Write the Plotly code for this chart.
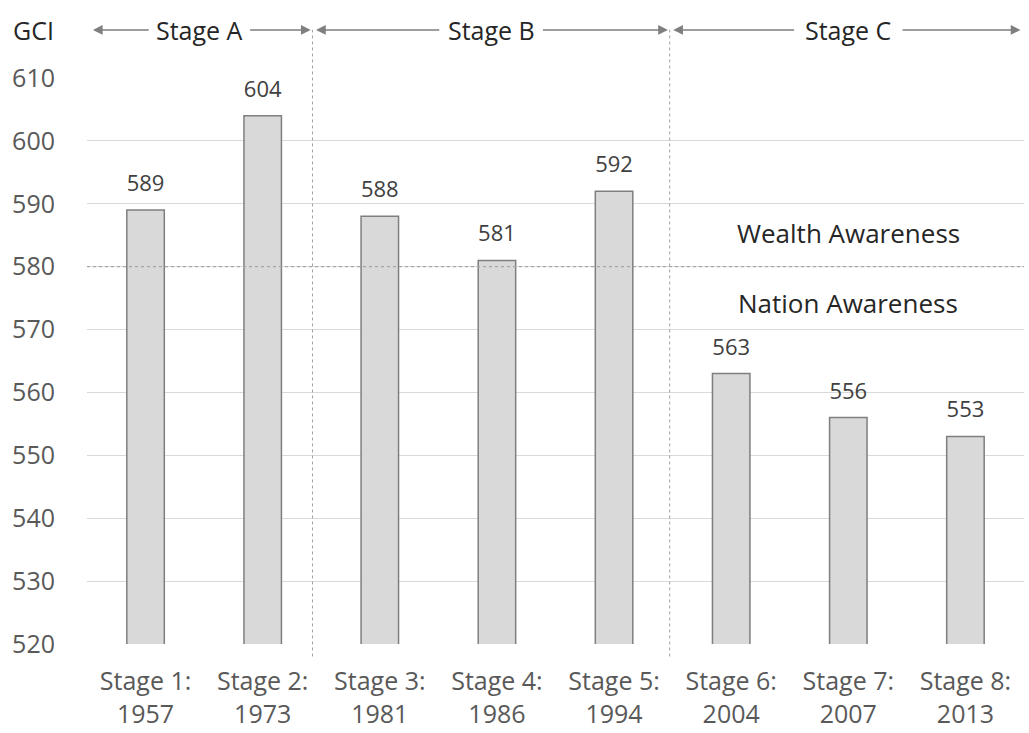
import plotly.graph_objects as go

stages = ["Stage 1:", "Stage 2:", "Stage 3:", "Stage 4:", "Stage 5:", "Stage 6:", "Stage 7:", "Stage 8:"]
years = ["1957", "1973", "1981", "1986", "1994", "2004", "2007", "2013"]
gci = [589, 604, 588, 581, 592, 563, 556, 553]
y_ticks = [520, 530, 540, 550, 560, 570, 580, 590, 600, 610]
threshold = 580
phase_names = ["Stage A", "Stage B", "Stage C"]
# phase boundaries in category-index units
phase_bounds = [(-0.45, 1.41), (1.455, 4.46), (4.505, 7.47)]
phase_text_x = [0.46, 2.95, 6.0]
phase_text_half = [0.42, 0.43, 0.45]
dividers = [1.425, 4.475]
zone_labels = ["Wealth Awareness", "Nation Awareness"]
zone_label_y = [585.4, 574.2]
zone_label_x = 6.0

FONT = "Open Sans"
idx = list(range(len(gci)))
ticktext = [f"{s}<br>{y}" for s, y in zip(stages, years)]

fig = go.Figure()
fig.add_trace(go.Bar(
    x=idx, y=gci, width=0.32,
    marker=dict(color="#d9d9d9", line=dict(color="#7f7f7f", width=1.5)),
    hoverinfo="skip", showlegend=False,
))
fig.add_trace(go.Scatter(
    x=idx, y=gci, mode="markers+text", text=[str(v) for v in gci],
    textposition="top center",
    marker=dict(size=20, opacity=0),
    textfont=dict(family=FONT, size=22, color="#404040"),
    cliponaxis=False, hoverinfo="skip", showlegend=False,
))

shapes = []
shapes.append(dict(type="line", xref="paper", yref="y", x0=0, x1=1, y0=threshold, y1=threshold,
                   line=dict(color="#a6a6a6", width=1.2, dash="dot")))
for d in dividers:
    shapes.append(dict(type="line", xref="x", yref="paper", x0=d, x1=d, y0=-0.022, y1=1.085,
                       line=dict(color="#a0a0a0", width=1, dash="dot")))

annotations = []
ay_paper = 1.085
for name, (a, b), tx, hw in zip(phase_names, phase_bounds, phase_text_x, phase_text_half):
    annotations.append(dict(x=tx, y=ay_paper, xref="x", yref="paper", yanchor="middle", text=name,
                            showarrow=False, font=dict(family=FONT, size=25, color="#262626")))
    annotations.append(dict(x=a, y=ay_paper, xref="x", yref="paper", axref="x", ayref="pixel",
                            ax=tx - hw, ay=0, text="", showarrow=True, arrowhead=2, arrowsize=1.3,
                            arrowwidth=1.5, arrowcolor="#7f7f7f"))
    annotations.append(dict(x=b, y=ay_paper, xref="x", yref="paper", axref="x", ayref="pixel",
                            ax=tx + hw, ay=0, text="", showarrow=True, arrowhead=2, arrowsize=1.3,
                            arrowwidth=1.5, arrowcolor="#7f7f7f"))
annotations.append(dict(x=-0.081, y=ay_paper, xref="paper", yref="paper", xanchor="left", yanchor="middle",
                        text="GCI", showarrow=False, font=dict(family=FONT, size=25, color="#262626")))
for lab, yy in zip(zone_labels, zone_label_y):
    annotations.append(dict(x=zone_label_x, y=yy, xref="x", yref="y", text=lab, showarrow=False,
                            font=dict(family=FONT, size=26, color="#262626")))

fig.update_layout(
    width=1029, height=733,
    margin=dict(l=87, r=5, t=78, b=89, autoexpand=False),
    paper_bgcolor="white", plot_bgcolor="white",
    shapes=shapes, annotations=annotations,
    font=dict(family=FONT, size=25, color="#595959"),
    xaxis=dict(range=[-0.5, 7.5], tickvals=idx, ticktext=ticktext, showgrid=False,
               zeroline=False, showline=False, ticks="", ticklabelstandoff=20, automargin=False,
               tickfont=dict(family=FONT, size=25, color="#595959")),
    yaxis=dict(range=[520, 610], tickvals=y_ticks, showgrid=True, gridcolor="#d9d9d9",
               gridwidth=1, zeroline=False, showline=False, ticks="", ticklabelstandoff=31,
               automargin=False, tickfont=dict(family=FONT, size=25, color="#595959")),
    bargap=0.68,
)

fig.write_html("out.html")
